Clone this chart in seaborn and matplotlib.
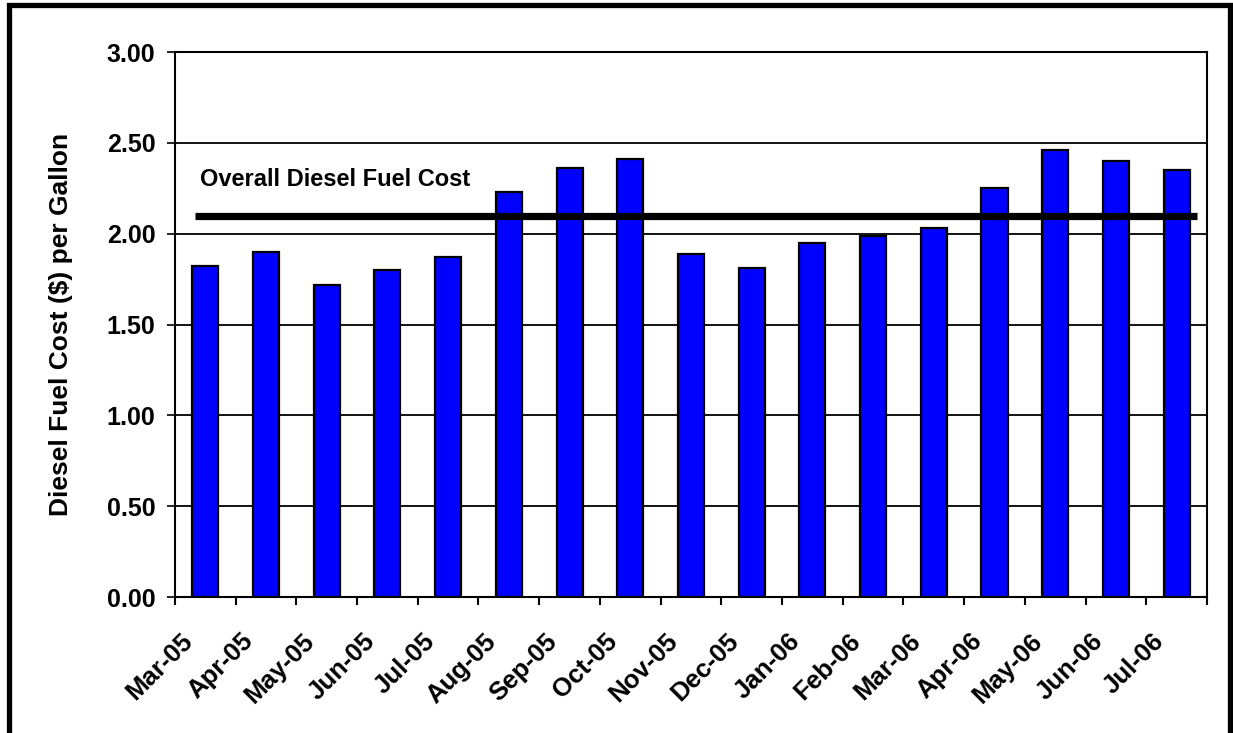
import matplotlib
matplotlib.use("Agg")
import matplotlib.pyplot as plt
import matplotlib.transforms as mtransforms
from matplotlib.patches import Rectangle
from matplotlib.ticker import FormatStrFormatter, MultipleLocator
import numpy as np
import pandas as pd
import seaborn as sns

# Monthly diesel fuel cost per gallon
months = ["Mar-05", "Apr-05", "May-05", "Jun-05", "Jul-05", "Aug-05", "Sep-05",
          "Oct-05", "Nov-05", "Dec-05", "Jan-06", "Feb-06", "Mar-06", "Apr-06",
          "May-06", "Jun-06", "Jul-06"]
cost = [1.82, 1.90, 1.72, 1.80, 1.87, 2.23, 2.36, 2.41, 1.89, 1.81,
        1.95, 1.99, 2.03, 2.25, 2.46, 2.40, 2.35]
overall_cost = 2.10
overall_label = "Overall Diesel Fuel Cost"

df = pd.DataFrame({"month": months, "cost": cost})

sns.set_style("white")
plt.rcParams["font.family"] = ["Liberation Sans", "DejaVu Sans"]
plt.rcParams["font.weight"] = "bold"
plt.rcParams["text.color"] = "black"
plt.rcParams["axes.labelcolor"] = "black"
plt.rcParams["xtick.color"] = "black"
plt.rcParams["ytick.color"] = "black"

fig = plt.figure(figsize=(12.33, 7.33), dpi=100)
ax = fig.add_axes([0.1419, 0.1855, 0.8370, 0.7435])

sns.barplot(data=df, x="month", y="cost", color="#0000FF", saturation=1,
            width=0.43, edgecolor="black", linewidth=1.6, ax=ax)

ax.set_ylim(0, 3.0)
ax.set_xlim(-0.5, len(months) - 0.5)
ax.yaxis.set_major_locator(MultipleLocator(0.5))
ax.yaxis.set_major_formatter(FormatStrFormatter("%.2f"))
ax.grid(axis="y", color="black", linewidth=1.3)
ax.set_axisbelow(True)
for s in ax.spines.values():
    s.set_color("black")
    s.set_linewidth(1.5)

# overall cost reference line and its label
ax.axhline(overall_cost, xmin=0.019, xmax=0.990, color="black", linewidth=5.2,
           solid_capstyle="butt", zorder=5)
ax.text(0.024, 2.30, overall_label, transform=ax.get_yaxis_transform(),
        fontsize=17, fontweight="bold", va="center", ha="left", color="black")

ax.set_xlabel("")
ax.set_ylabel("Diesel Fuel Cost ($) per Gallon", fontsize=19, fontweight="bold",
              labelpad=24, color="black")

# ticks: marks at category boundaries, labels at category centres
ax.set_xticks(np.arange(len(months)))
ax.set_xticklabels(months, rotation=45, ha="right", va="top", rotation_mode="anchor",
                   fontsize=18.5, fontweight="bold", color="black")
ax.set_xticks(np.arange(len(months) + 1) - 0.5, minor=True)
ax.tick_params(axis="x", which="major", length=0, pad=23, bottom=True)
ax.tick_params(axis="x", which="minor", length=6, width=1.5, color="black",
               direction="out", bottom=True)
ax.tick_params(axis="y", which="major", length=6, width=1.2, color="black", direction="out",
               labelsize=18, pad=8, left=True)
shift = mtransforms.ScaledTranslation(-25 / 100, 0, fig.dpi_scale_trans)
for lbl in ax.get_xticklabels():
    lbl.set_transform(lbl.get_transform() + shift)
for lbl in ax.get_yticklabels():
    lbl.set_fontweight("bold")

# outer frame around the whole chart
fig.patches.append(Rectangle((0.0077, -0.05), 0.9895, 1.0425, transform=fig.transFigure,
                             fill=False, edgecolor="black", linewidth=3.8))

fig.savefig("out.png", dpi=100)
